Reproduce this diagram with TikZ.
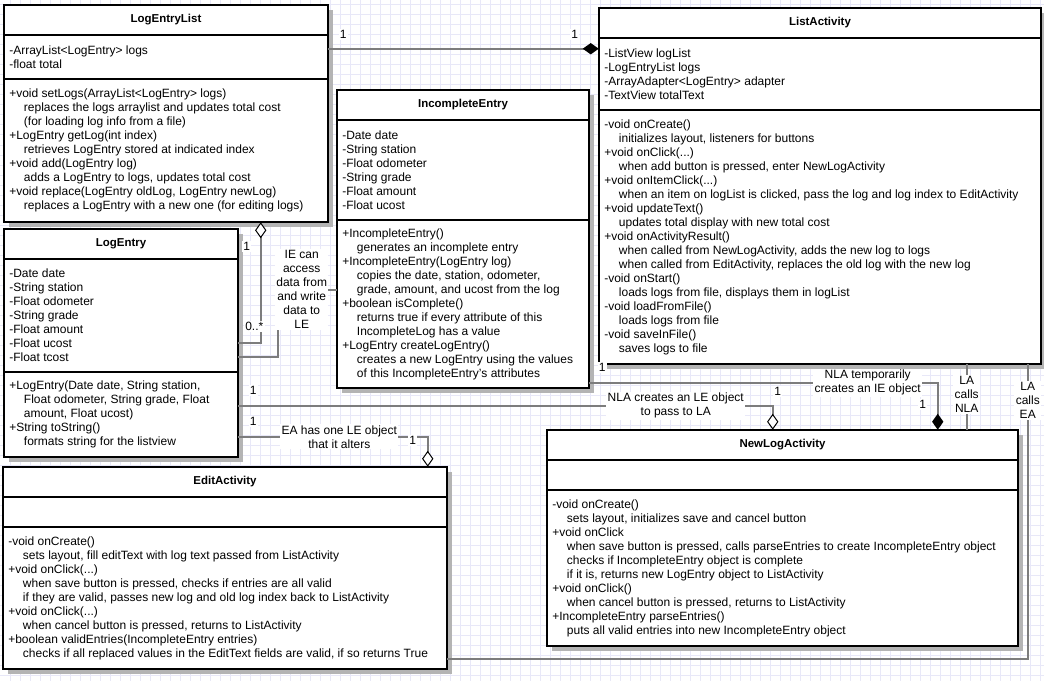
\documentclass[tikz,border=0pt]{standalone}
\usepackage{fontspec}
\setmainfont{Liberation Sans}
\usetikzlibrary{positioning,calc,fit,shadows,arrows.meta}
\definecolor{gridblue}{RGB}{232,232,248}
\definecolor{shadowgray}{RGB}{180,180,180}
\definecolor{linkgray}{RGB}{125,125,125}
\newcommand{\umlfont}{\fontsize{9pt}{10.5pt}\selectfont}
\newcommand{\umltitlefont}{\fontsize{8.6pt}{10.5pt}\selectfont\bfseries}
\newcommand{\descpad}{\hspace*{11pt}}
\tikzstyle{classpart} = [draw=black, line width=1.5pt, fill=white, outer sep=0pt, inner sep=0pt, general shadow={fill=shadowgray, shadow xshift=3.5pt, shadow yshift=-3.5pt}]
\tikzstyle{classtitle} = [classpart, font=\umltitlefont]
\tikzstyle{classtext} = [align=left, anchor=west, inner sep=0pt]
\tikzstyle{assoc} = [draw=linkgray, line width=1.4pt]
\tikzstyle{aggr} = [-{Diamond[color=black, fill=white, line width=0.75pt, length=12pt, width=8.5pt]}]
\tikzstyle{comp} = [-{Diamond[color=black, length=12pt, width=8.5pt]}]
\tikzstyle{mult} = [fill=white, inner sep=1pt]
\tikzstyle{note} = [fill=white, align=center, inner sep=1pt]
% name, top left, width, attribute height, method height, title, attributes, methods
\newcommand{\umlclass}[8]{%
  \pgfmathsetmacro{\clsw}{#3*0.75}
  \node[classtitle, anchor=north west, minimum width=\clsw pt, minimum height=22.5pt] (#1-t) at #2 {#6};
  \node[classpart, below=0pt of #1-t, minimum width=\clsw pt, minimum height=#4*0.75pt] (#1-a) {};
  \node[classpart, below=0pt of #1-a, minimum width=\clsw pt, minimum height=#5*0.75pt] (#1-m) {};
  \node[classtext] (#1-at) at ($(#1-a.west)+(5,0)$) {#7};
  \node[classtext] (#1-mt) at ($(#1-m.west)+(5,0)$) {#8};
  \node[fit=(#1-t)(#1-m), inner sep=0pt] (#1) {};
}
\begin{document}
\begin{tikzpicture}[x=0.75pt, y=-0.75pt, every node/.style={font=\umlfont}]
\useasboundingbox (0,0) rectangle (1044,681);
\foreach \gx in {10,20,...,1040} \draw[gridblue, line width=0.75pt] (\gx,0) -- (\gx,681);
\foreach \gy in {5,15,...,675} \draw[gridblue, line width=0.75pt] (0,\gy) -- (1044,\gy);

\umlclass{lel}{(4,5)}{324}{44}{143}{LogEntryList}
  {-ArrayList<LogEntry> logs\\-float total}
  {+void setLogs(ArrayList<LogEntry> logs)\\
   \descpad replaces the logs arraylist and updates total cost\\
   \descpad (for loading log info from a file)\\
   +LogEntry getLog(int index)\\
   \descpad retrieves LogEntry stored at indicated index\\
   +void add(LogEntry log)\\
   \descpad adds a LogEntry to logs, updates total cost\\
   +void replace(LogEntry oldLog, LogEntry newLog)\\
   \descpad replaces a LogEntry with a new one (for editing logs)}
\umlclass{ie}{(337,90)}{252}{100}{168}{IncompleteEntry}
  {-Date date\\-String station\\-Float odometer\\-String grade\\-Float amount\\-Float ucost}
  {+IncompleteEntry()\\
   \descpad generates an incomplete entry\\
   +IncompleteEntry(LogEntry log)\\
   \descpad copies the date, station, odometer,\\
   \descpad grade, amount, and ucost from the log\\
   +boolean isComplete()\\
   \descpad returns true if every attribute of this\\
   \descpad IncompleteLog has a value\\
   +LogEntry createLogEntry()\\
   \descpad creates a new LogEntry using the values\\
   \descpad of this IncompleteEntry's attributes}
\umlclass{la}{(599,8)}{442}{72}{254}{ListActivity}
  {-ListView logList\\-LogEntryList logs\\-ArrayAdapter<LogEntry> adapter\\-TextView totalText}
  {-void onCreate()\\
   \descpad initializes layout, listeners for buttons\\
   +void onClick(...)\\
   \descpad when add button is pressed, enter NewLogActivity\\
   +void onItemClick(...)\\
   \descpad when an item on logList is clicked, pass the log and log index to EditActivity\\
   +void updateText()\\
   \descpad updates total display with new total cost\\
   +void onActivityResult()\\
   \descpad when called from NewLogActivity, adds the new log to logs\\
   \descpad when called from EditActivity, replaces the old log with the new log\\
   -void onStart()\\
   \descpad loads logs from file, displays them in logList\\
   -void loadFromFile()\\
   \descpad loads logs from file\\
   -void saveInFile()\\
   \descpad saves logs to file}
\umlclass{le}{(4,229)}{234}{113}{85}{LogEntry}
  {-Date date\\-String station\\-Float odometer\\-String grade\\-Float amount\\-Float ucost\\-Float tcost}
  {+LogEntry(Date date, String station,\\
   \descpad Float odometer, String grade, Float\\
   \descpad amount, Float ucost)\\
   +String toString()\\
   \descpad formats string for the listview}
\umlclass{ea}{(3,467)}{444}{30}{142}{EditActivity}
  {}
  {-void onCreate()\\
   \descpad sets layout, fill editText with log text passed from ListActivity\\
   +void onClick(...)\\
   \descpad when save button is pressed, checks if entries are all valid\\
   \descpad if they are valid, passes new log and old log index back to ListActivity\\
   +void onClick(...)\\
   \descpad when cancel button is pressed, returns to ListActivity\\
   +boolean validEntries(IncompleteEntry entries)\\
   \descpad checks if all replaced values in the EditText fields are valid, if so returns True}
\umlclass{nla}{(547,430)}{471}{30}{156}{NewLogActivity}
  {}
  {-void onCreate()\\
   \descpad sets layout, initializes save and cancel button\\
   +void onClick\\
   \descpad when save button is pressed, calls parseEntries to create IncompleteEntry object\\
   \descpad checks if IncompleteEntry object is complete\\
   \descpad if it is, returns new LogEntry object to ListActivity\\
   +void onClick()\\
   \descpad when cancel button is pressed, returns to ListActivity\\
   +IncompleteEntry parseEntries()\\
   \descpad puts all valid entries into new IncompleteEntry object}

% LogEntryList -- ListActivity
\coordinate (lel-r) at ($(lel.north east)+(0,44)$);
\draw[assoc, comp] (lel-r) -- (lel-r -| la.west);
\node[mult] (n1) at ($(lel-r)+(15,-14)$) {1};
\node[mult] (n2) at ($(lel-r -| la.west)+(-24,-14)$) {1};
% LogEntry -- LogEntryList
\coordinate (lel-b) at ($(lel.south west)+(257,0)$);
\coordinate (le-r1) at ($(le.north east)+(0,114)$);
\draw[assoc, aggr] (le-r1) -| (lel-b);
\node[mult] (n3) at ($(lel-b)+(-14,24)$) {1};
\node[mult] (n4) at ($(le-r1)+(16,-16)$) {0..*};
% IncompleteEntry -- LogEntry
\coordinate (ie-l) at ($(ie.north west)+(0,200)$);
\coordinate (le-r2) at ($(le.north east)+(0,128)$);
\draw[assoc] (ie-l) -- ++(-59,0) |- (le-r2);
\node[note] (n5) at ($(ie-l)+(-35,0)$) {IE can\\access\\data from\\and write\\data to\\LE};
% LogEntry -- NewLogActivity
\coordinate (le-r3) at ($(le.north east)+(0,177)$);
\coordinate (nla-t1) at ($(nla.north west)+(226,0)$);
\draw[assoc, aggr] (le-r3) -| (nla-t1);
\node[mult] (n6) at ($(le-r3)+(15,-15)$) {1};
\node[mult] (n7) at ($(le-r3 -| nla-t1)+(5,-14)$) {1};
\node[note] (n8) at ($(le-r3 -| nla-t1)+(-97,0)$) {NLA creates an LE object\\to pass to LA};
% LogEntry -- EditActivity
\coordinate (le-r4) at ($(le.north east)+(0,208)$);
\coordinate (ea-t) at ($(ea.north west)+(425,0)$);
\draw[assoc, aggr] (le-r4) -| (ea-t);
\node[mult] (n9) at ($(le-r4)+(15,-15)$) {1};
\node[note] (n10) at ($(le-r4)+(101,0)$) {EA has one LE object\\that it alters};
\node[mult] (n11) at ($(le-r4 -| ea-t)+(-15,4)$) {1};
% IncompleteEntry -- NewLogActivity
\coordinate (ie-r) at ($(ie.north east)+(0,293)$);
\coordinate (nla-t2) at ($(nla.north west)+(391,0)$);
\draw[assoc, comp] (ie-r) -| (nla-t2);
\node[mult] (n12) at ($(ie-r)+(13,-15)$) {1};
\node[mult] (n13) at ($(ie-r -| nla-t2)+(-15,22)$) {1};
\node[note] (n14) at ($(ie-r -| nla-t2)+(-70,0)$) {NLA temporarily\\creates an IE object};
% ListActivity -- NewLogActivity, EditActivity
\coordinate (la-b1) at ($(la.south west)+(368,0)$);
\draw[assoc] (la-b1) -- (la-b1 |- nla.north);
\node[note] (n15) at ($(la-b1)+(0,30)$) {LA\\calls\\NLA};
\coordinate (la-b2) at ($(la.south west)+(429,0)$);
\coordinate (ea-r) at ($(ea.north east)+(0,192)$);
\draw[assoc] (la-b2) |- (ea-r);
\node[note] (n16) at ($(la-b2)+(0,36)$) {LA\\calls\\EA};
\end{tikzpicture}
\end{document}
